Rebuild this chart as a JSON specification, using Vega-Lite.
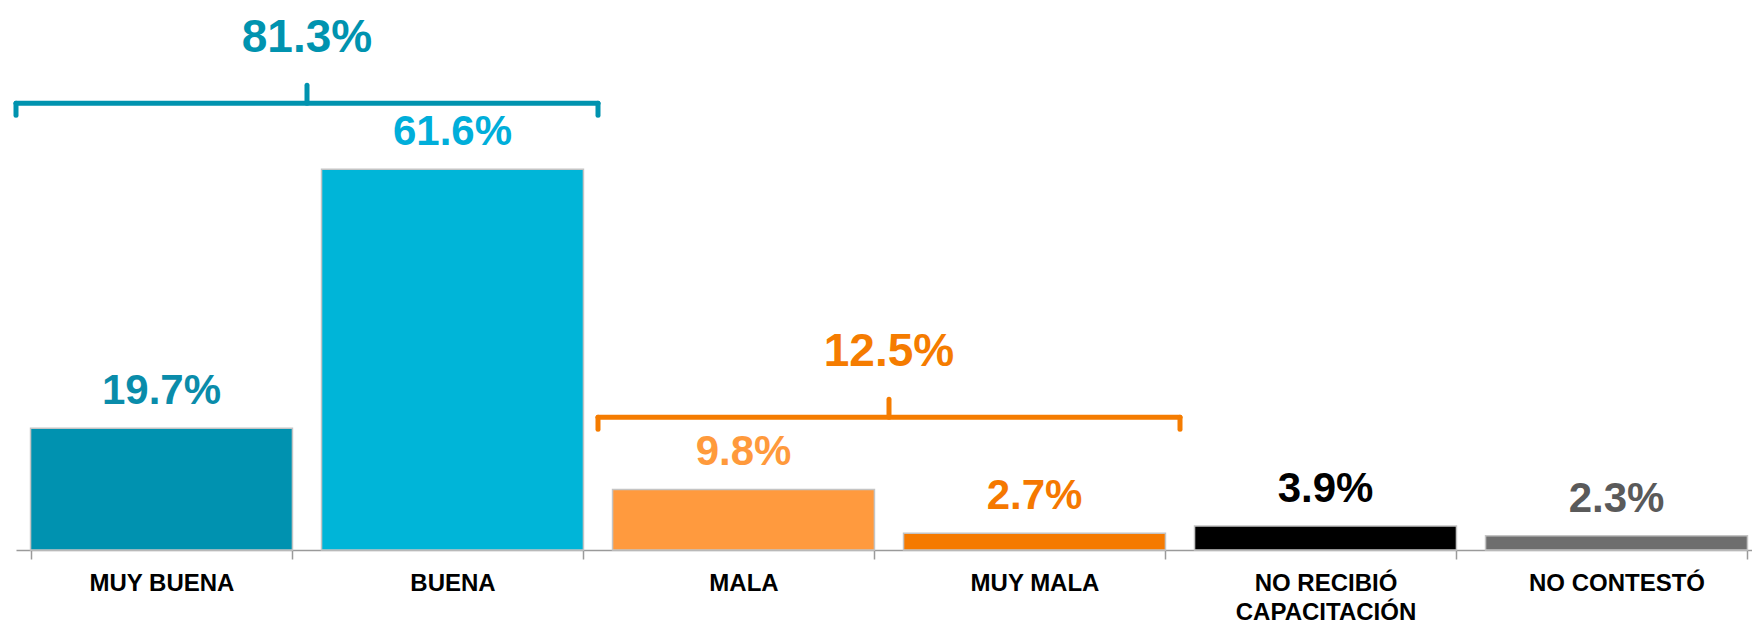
{
  "$schema": "https://vega.github.io/schema/vega-lite/v6.json",
  "width": 1736,
  "height": 550,
  "autosize": {"type": "none"},
  "padding": {"left": 16, "top": 0, "right": 0, "bottom": 77},
  "background": "white",
  "config": {"view": {"stroke": null}, "font": "Liberation Sans"},
  "layer": [
    {
      "data": {
        "values": [
          {"categoria": "MUY BUENA", "porcentaje": 0.197},
          {"categoria": "BUENA", "porcentaje": 0.616},
          {"categoria": "MALA", "porcentaje": 0.098},
          {"categoria": "MUY MALA", "porcentaje": 0.027},
          {"categoria": "NO RECIBIÓ CAPACITACIÓN", "porcentaje": 0.039},
          {"categoria": "NO CONTESTÓ", "porcentaje": 0.023}
        ]
      },
      "encoding": {
        "x": {
          "field": "categoria",
          "type": "nominal",
          "sort": null,
          "scale": {"range": [0, 1746], "paddingInner": 0.1, "paddingOuter": 0.05},
          "axis": {
            "title": null,
            "labelAngle": 0,
            "labelFont": "Liberation Sans",
            "labelFontSize": 24,
            "labelFontWeight": "bold",
            "labelColor": "#000000",
            "labelBaseline": "top",
            "labelPadding": 12,
            "labelLineHeight": 29,
            "labelLimit": 300,
            "tickBand": "extent",
            "tickSize": 9,
            "tickColor": "#9A9A9A",
            "tickWidth": 1.5,
            "domainColor": "#9A9A9A",
            "domainWidth": 1.5,
            "labelExpr": "datum.value == 'NO RECIBIÓ CAPACITACIÓN' ? ['NO RECIBIÓ', 'CAPACITACIÓN'] : datum.label"
          }
        },
        "y": {
          "field": "porcentaje",
          "type": "quantitative",
          "scale": {"domain": [0, 0.89], "nice": false},
          "axis": null
        }
      },
      "layer": [
        {
          "mark": {"type": "bar", "stroke": "#C4C4C4", "strokeWidth": 1.5},
          "encoding": {
            "color": {
              "field": "categoria",
              "type": "nominal",
              "scale": {
                "domain": ["MUY BUENA", "BUENA", "MALA", "MUY MALA", "NO RECIBIÓ CAPACITACIÓN", "NO CONTESTÓ"],
                "range": ["#0092B0", "#00B5D8", "#FF9A3E", "#F57A00", "#000000", "#6E6E6E"]
              },
              "legend": null
            }
          }
        },
        {
          "mark": {"type": "text", "fontSize": 42, "fontWeight": "bold", "baseline": "alphabetic", "dy": -24},
          "encoding": {
            "text": {"field": "porcentaje", "type": "quantitative", "format": ".1%"},
            "color": {
              "field": "categoria",
              "type": "nominal",
              "scale": {
                "domain": ["MUY BUENA", "BUENA", "MALA", "MUY MALA", "NO RECIBIÓ CAPACITACIÓN", "NO CONTESTÓ"],
                "range": ["#0A8CAA", "#00AEDA", "#FF9A3C", "#F57800", "#000000", "#5A5A5A"]
              },
              "legend": null
            }
          }
        }
      ],
      "resolve": {"scale": {"color": "independent"}}
    },
    {
      "data": {
        "values": [
          {"grupo": "positivo", "total": 0.813, "inicio": 0, "fin": 2, "centro": 1, "nivel": 0.723},
          {"grupo": "negativo", "total": 0.125, "inicio": 2, "fin": 4, "centro": 3, "nivel": 0.215}
        ]
      },
      "encoding": {
        "y": {
          "field": "nivel",
          "type": "quantitative",
          "scale": {"domain": [0, 0.89], "nice": false},
          "axis": null
        },
        "color": {
          "field": "grupo",
          "type": "nominal",
          "scale": {"domain": ["positivo", "negativo"], "range": ["#0093AF", "#F57C00"]},
          "legend": null
        }
      },
      "layer": [
        {
          "mark": {"type": "rule", "strokeWidth": 5, "strokeCap": "round"},
          "encoding": {
            "x": {"field": "inicio", "type": "quantitative", "scale": {"domain": [0, 6], "range": [0, 1746], "nice": false, "zero": false}, "axis": null},
            "x2": {"field": "fin"}
          }
        },
        {
          "mark": {"type": "rule", "strokeWidth": 5, "strokeCap": "round", "y2Offset": 12},
          "encoding": {
            "x": {"field": "inicio", "type": "quantitative"},
            "y2": {"field": "nivel"}
          }
        },
        {
          "mark": {"type": "rule", "strokeWidth": 5, "strokeCap": "round", "y2Offset": 12},
          "encoding": {
            "x": {"field": "fin", "type": "quantitative"},
            "y2": {"field": "nivel"}
          }
        },
        {
          "mark": {"type": "rule", "strokeWidth": 5, "strokeCap": "round", "y2Offset": -18},
          "encoding": {
            "x": {"field": "centro", "type": "quantitative"},
            "y2": {"field": "nivel"}
          }
        },
        {
          "mark": {"type": "text", "fontSize": 46, "fontWeight": "bold", "baseline": "alphabetic", "dy": -51},
          "encoding": {
            "x": {"field": "centro", "type": "quantitative"},
            "text": {"field": "total", "type": "quantitative", "format": ".1%"}
          }
        }
      ]
    }
  ],
  "resolve": {"scale": {"x": "independent", "color": "independent"}}
}
